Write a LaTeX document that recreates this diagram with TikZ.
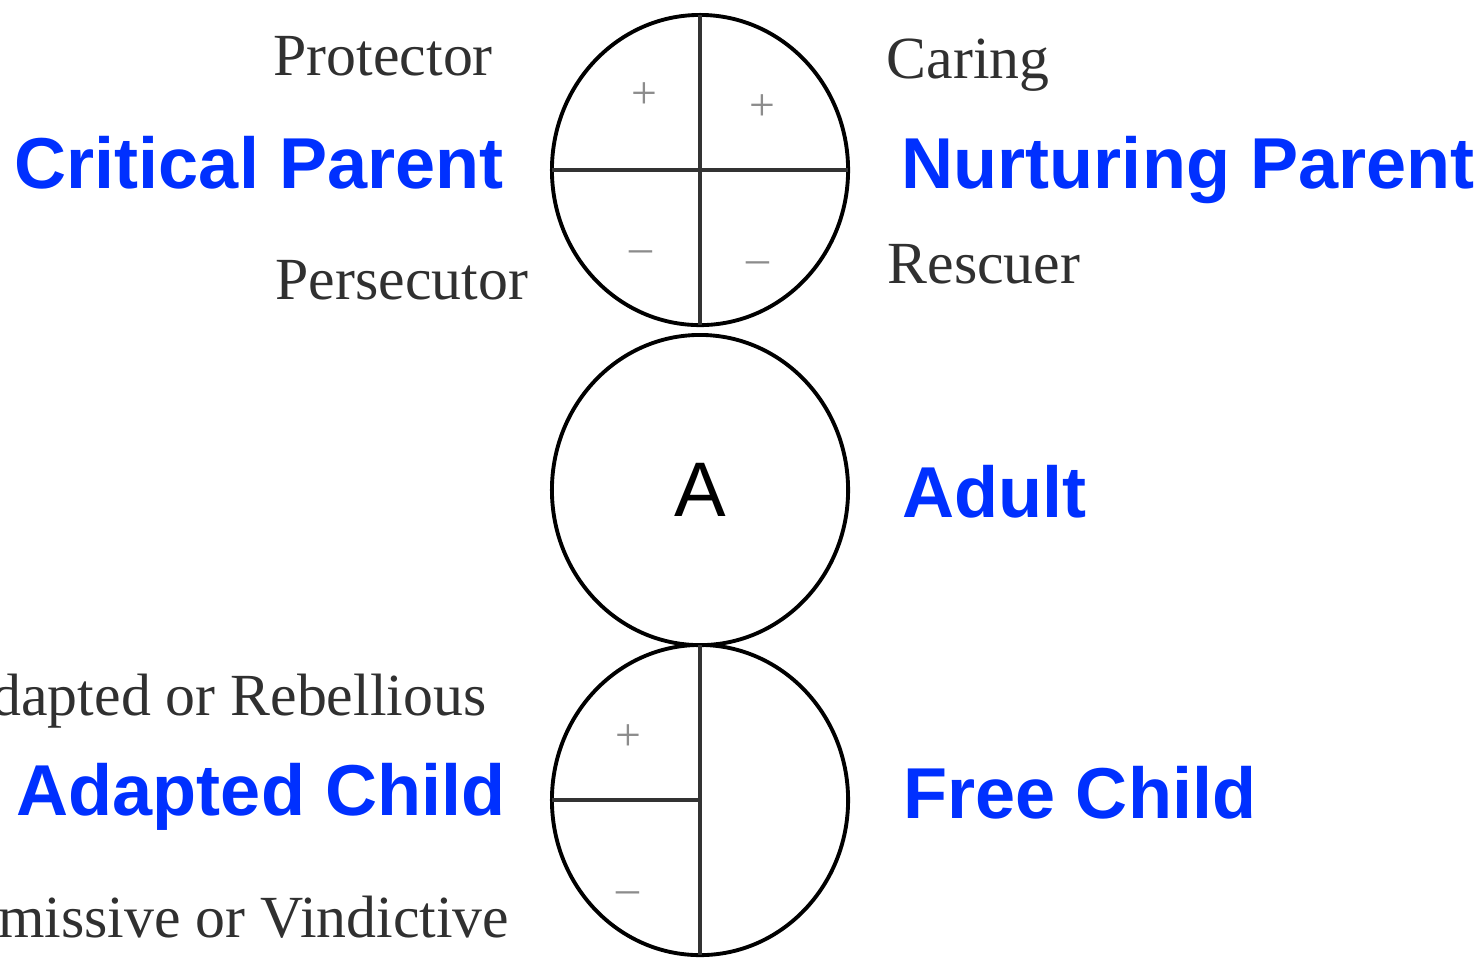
\documentclass[tikz,border=0pt]{standalone}
\usepackage{fontspec}
\setmainfont{Liberation Serif}
\setsansfont{Liberation Sans}
\usepackage{tikz}
\usetikzlibrary{shapes.geometric}
\usepackage{xcolor}
\definecolor{ta_blue}{HTML}{0030FF}
\definecolor{ta_text}{HTML}{303030}
\definecolor{ta_sign}{HTML}{8C8C8C}

\begin{document}
\begin{tikzpicture}[
    x=0.01cm, y=-0.01cm,
    ego/.style={draw, line width=1.1pt, ellipse, inner sep=0pt, outer sep=0pt,
        minimum width=2.96cm, minimum height=3.1cm,
        font=\sffamily\fontsize{22}{26}\selectfont},
    split/.style={line width=1.3pt, black!80},
    role/.style={inner sep=0pt, text=ta_blue, font=\sffamily\bfseries\fontsize{20.5}{24}\selectfont},
    trait/.style={inner sep=0pt, text=ta_text, font=\fontsize{17}{20}\selectfont},
    sign/.style={inner sep=0pt, text=ta_sign, font=\fontsize{13}{15}\selectfont}
]
    \useasboundingbox (0,0) rectangle (1480,959);
    \clip (0,0) rectangle (1480,959);

	% the three ego states
	\node[ego] (P) at (700,170) {};
	\node[ego] (A) at (700,490) {A};
	\node[ego] (C) at (700,800) {};

	\draw [split] (P.west) -- (P.east);
	\draw [split] (P.north) -- (P.south);
	\draw [split] (C.west) -- (C.center);
	\draw [split] (C.north) -- (C.south);

	% signs in the quadrants
	\node[sign] (pl) at (644,96) {+};
	\node[sign] (pr) at (762,108) {+};
	\node[sign] (ml) at (641,257) {–};
	\node[sign] (mr) at (758,268) {–};
	\node[sign] (cp) at (628,738) {+};
	\node[sign] (cm) at (628,898) {–};

	% labels on the left
	\node[trait, anchor=base west] (prot) at (273,75) {Protector};
	\node[role, anchor=base west] (cpar) at (14,188) {Critical Parent};
	\node[trait, anchor=base west] (pers) at (275,299) {Persecutor};
	\node[trait, anchor=base east] (rebel) at (487,715) {Adapted or Rebellious};
	\node[role, anchor=base west] (achild) at (16,815) {Adapted Child};
	\node[trait, anchor=base east] (subm) at (510,937) {Submissive or Vindictive};

	% labels on the right
	\node[trait, anchor=base west] (care) at (886,78) {Caring};
	\node[role, anchor=base west] (npar) at (901,188) {Nurturing Parent};
	\node[trait, anchor=base west] (resc) at (887,283) {Rescuer};
	\node[role, anchor=base west] (adult) at (902,517) {Adult};
	\node[role, anchor=base west] (fchild) at (903,818) {Free Child};
\end{tikzpicture}
\end{document}
